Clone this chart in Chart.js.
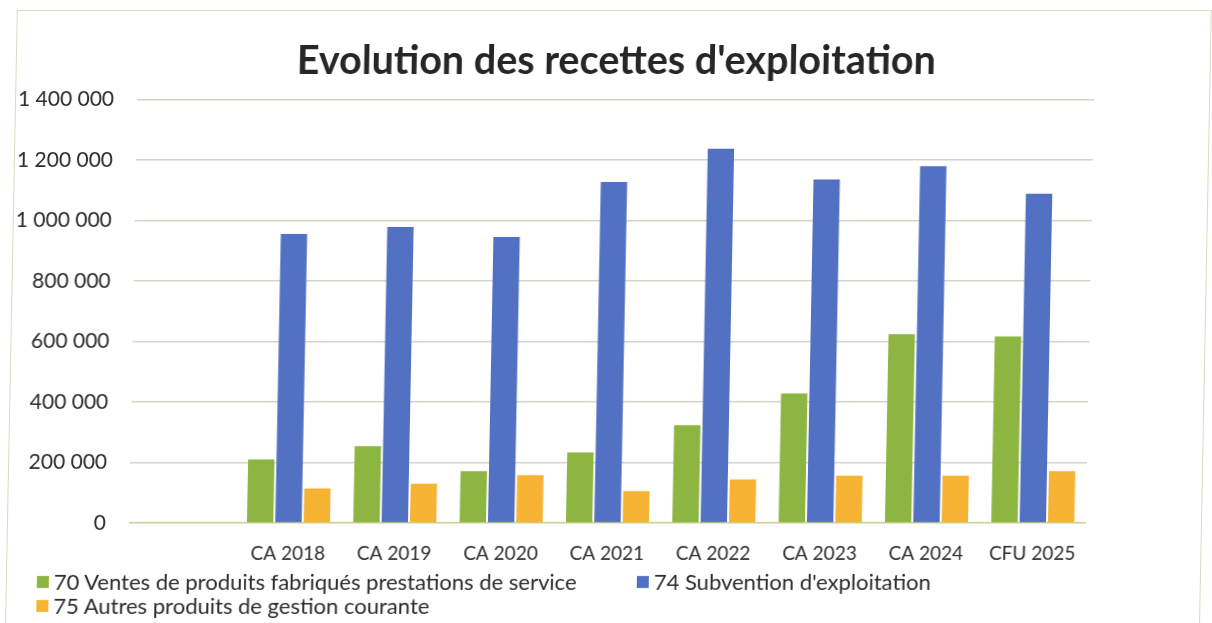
<!DOCTYPE html>
<html>
<head>
<meta charset="utf-8">
<script src="https://cdn.jsdelivr.net/npm/chart.js@4"></script>
<style>
  html, body { margin:0; padding:0; background:#fff; overflow:hidden; }
  /* le scan d'origine est légèrement penché : on reproduit ce biais */
  #wrap { position:relative; width:1212px; height:623px; transform:skewX(-1.1deg); transform-origin:0 0; }
  #frame { position:absolute; left:17px; top:10px; width:1193px; height:640px;
           border:1.5px solid #d9d9c2; border-bottom:none; pointer-events:none; }
  #legend { position:absolute; left:0; top:0; width:1212px; height:623px; pointer-events:none;
            font-family:Lato, sans-serif; font-size:22px; color:#2b2b2b; }
  .item { position:absolute; display:flex; align-items:center; white-space:nowrap; line-height:24px; }
  .item i { display:inline-block; width:12px; height:12px; margin-right:5px; }
</style>
</head>
<body>
<div id="wrap">
  <canvas id="chart" width="1212" height="623"></canvas>
  <div id="frame"></div>
  <div id="legend"></div>
</div>
<script>
  // valeurs (en euros)
  const categories = ['', 'CA 2018', 'CA 2019', 'CA 2020', 'CA 2021', 'CA 2022', 'CA 2023', 'CA 2024', 'CFU 2025'];
  const ventes70     = [null, 210000, 254000, 171000, 233000, 323000, 428000, 624000, 616000];
  const subvention74 = [null, 955000, 978000, 945000, 1127000, 1237000, 1135000, 1179000, 1088000];
  const autres75     = [null, 114000, 130000, 158000, 105000, 144000, 156000, 156000, 171000];
  const seriesNames = [
    '70 Ventes de produits fabriqués prestations de service',
    '74 Subvention d\'exploitation',
    '75 Autres produits de gestion courante'
  ];
  const colors = ['#8db542', '#5271c2', '#f6b334'];
  const yTicks = [0, 200000, 400000, 600000, 800000, 1000000, 1200000, 1400000];

  const fmt = v => String(v).replace(/\B(?=(\d{3})+(?!\d))/g, ' ');

  const chart = new Chart(document.getElementById('chart'), {
    type: 'bar',
    data: {
      labels: categories,
      datasets: [ventes70, subvention74, autres75].map((d, i) => ({
        label: seriesNames[i], data: d, backgroundColor: colors[i], borderWidth: 0,
        categoryPercentage: 0.8, barPercentage: 0.93
      }))
    },
    options: {
      responsive: false,
      animation: false,
      layout: { padding: { top: 0, left: 0, right: 116, bottom: 60 } },
      plugins: {
        legend: { display: false },
        tooltip: { enabled: false },
        title: {
          display: true, fullSize: false,
          text: 'Evolution des recettes d\'exploitation',
          color: '#262626',
          font: { family: 'Lato', size: 39.5, weight: 'bold' },
          padding: { top: 38, bottom: 14 }
        }
      },
      scales: {
        x: {
          grid: { display: false },
          border: { display: false },
          afterFit: s => { s.height = 40; },
          ticks: { color: '#2b2b2b', font: { family: 'Lato', size: 19 }, padding: 11, maxRotation: 0 }
        },
        y: {
          min: 0, max: 1400000,
          afterBuildTicks: s => { s.ticks = yTicks.map(v => ({ value: v })); },
          afterFit: s => { s.width = 139; },
          border: { display: false },
          grid: {
            drawTicks: false, lineWidth: 1.5,
            color: c => c.tick && c.tick.value === 0 ? '#c9cd8e' : '#d4d4c6'
          },
          ticks: { color: '#2b2b2b', font: { family: 'Lato', size: 21 }, padding: 23, callback: v => fmt(v) }
        }
      }
    }
  });

  // légende en html sous le graphique
  const legendPos = [[48, 570], [648, 570], [48, 594]];
  const leg = document.getElementById('legend');
  chart.data.datasets.forEach((ds, i) => {
    const el = document.createElement('div');
    el.className = 'item';
    el.style.left = legendPos[i][0] + 'px';
    el.style.top = legendPos[i][1] + 'px';
    el.innerHTML = '<i style="background:' + ds.backgroundColor + '"></i>' + ds.label;
    leg.appendChild(el);
  });
</script>
</body>
</html>
